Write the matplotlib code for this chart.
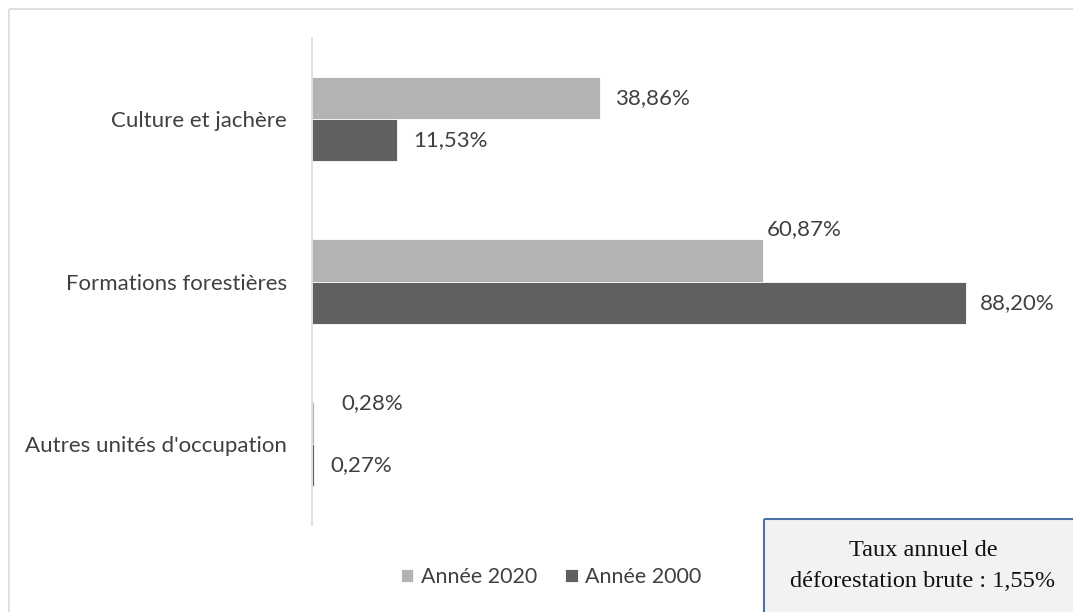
import matplotlib
matplotlib.use("Agg")
import matplotlib.pyplot as plt
from matplotlib.patches import Rectangle
from matplotlib.lines import Line2D

categories = ["Culture et jachère", "Formations forestières", "Autres unités d'occupation"]
series_names = ["Année 2020", "Année 2000"]
values_2020 = [38.86, 60.87, 0.28]
values_2000 = [11.53, 88.20, 0.27]
labels_2020 = ["38,86%", "60,87%", "0,28%"]
labels_2000 = ["11,53%", "88,20%", "0,27%"]
box_text = "Taux annuel de\ndéforestation brute : 1,55%"

W, H = 1074, 612
fig = plt.figure(figsize=(W / 100, H / 100), dpi=100)
plt.rcParams['font.family'] = ['Lato', 'DejaVu Sans']

# outer chart border (top and left edges only visible)
bx, by = 9 / W, 1 - 9 / H
fig.add_artist(Line2D([bx, 0.999], [by, by], transform=fig.transFigure, color='#d9d9d9',
                      lw=1.2, solid_capstyle='butt'))
fig.add_artist(Line2D([bx, bx], [0.0, by], transform=fig.transFigure, color='#d9d9d9',
                      lw=1.2, solid_capstyle='butt'))

ax = fig.add_axes([312 / W, 87 / H, 741.5 / W, 487 / H])
c_light = '#b3b3b3'
c_dark = '#606060'
txt_col = '#404040'
fs = 16
bh = 0.26
ys = list(range(len(categories)))
b1 = ax.barh([y - bh / 2 for y in ys], values_2020, height=bh, color=c_light,
             edgecolor='white', linewidth=0.6, label=series_names[0])
b2 = ax.barh([y + bh / 2 for y in ys], values_2000, height=bh, color=c_dark,
             edgecolor='white', linewidth=0.6, label=series_names[1])
ax.set_xlim(0, 100)
ax.set_ylim(2.5, -0.5)
ax.set_yticks(ys)
ax.set_yticklabels(categories, fontsize=fs, color=txt_col)
ax.tick_params(axis='y', length=0, pad=18)
ax.set_xticks([])
for s in ['top', 'right', 'bottom']:
    ax.spines[s].set_visible(False)
ax.spines['left'].set_color('#d9d9d9')
ax.spines['left'].set_linewidth(1.2)

offs_2020 = [(15, 0), (3, 31), (27, 20)]
offs_2000 = [(16, 0), (14, 0), (16, 0)]
for bars, labs, offs in [(b1, labels_2020, offs_2020), (b2, labels_2000, offs_2000)]:
    for bar, lab, (dx, dy) in zip(bars, labs, offs):
        x = bar.get_width()
        y = bar.get_y() + bar.get_height() / 2
        ax.annotate(lab, (x, y), xytext=(dx, dy), textcoords='offset pixels',
                    ha='left', va='center', fontsize=fs, color=txt_col)

leg = fig.legend(handles=[b1, b2], labels=series_names, loc='center',
                 bbox_to_anchor=(551 / W, 1 - 577 / H), ncol=2, frameon=False,
                 fontsize=15.4, handlelength=0.6, handleheight=0.6, handletextpad=0.35,
                 columnspacing=1.3, labelcolor=txt_col)

# text box (extends beyond the right and bottom edges)
x0, y0 = 764 / W, 1 - 519 / H
fig.patches.append(Rectangle((x0, 0), 0.999 - x0, y0, transform=fig.transFigure,
                             facecolor='#f2f2f2', edgecolor='none', linewidth=0))
fig.add_artist(Line2D([x0, 0.999], [y0, y0], transform=fig.transFigure, color='#4a72a5',
                      lw=1.5, solid_capstyle='butt'))
fig.add_artist(Line2D([x0, x0], [0.0, y0], transform=fig.transFigure, color='#4a72a5',
                      lw=1.5, solid_capstyle='butt'))
fig.text(923 / W, 1 - 566 / H, box_text, ha='center', va='center', fontsize=17.5,
         family=['Liberation Serif'], color='#111111', linespacing=1.6)

fig.savefig('out.png', dpi=100)
